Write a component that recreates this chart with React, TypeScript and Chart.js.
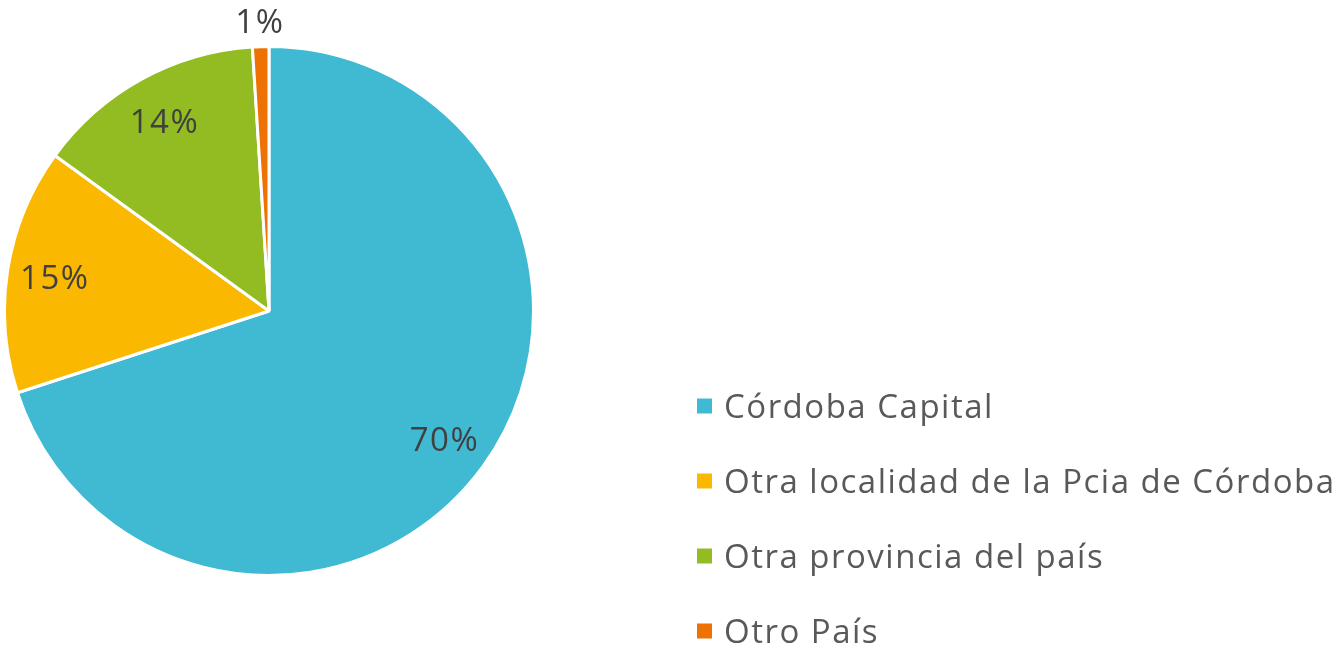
import React, { useEffect, useRef } from "react";
import { Chart, registerables } from "chart.js";

Chart.register(...registerables);

const categories = [
  "Córdoba Capital",
  "Otra localidad de la Pcia de Córdoba",
  "Otra provincia del país",
  "Otro País",
];
const values = [70, 15, 14, 1];
const valueLabels = ["70%", "15%", "14%", "1%"];
const colors = ["#40B9D3", "#FBB800", "#92BC22", "#EE7203"];

const FONT = "'Open Sans', 'Noto Sans', sans-serif";

const labelsPlugin = {
  id: "sliceLabels",
  afterDatasetsDraw(chart: any) {
    const ctx = chart.ctx;
    const meta = chart.getDatasetMeta(0);
    ctx.save();
    ctx.font = `33px ${FONT}`;
    (ctx as any).letterSpacing = "1.5px";
    ctx.fillStyle = "#404040";
    ctx.textAlign = "center";
    ctx.textBaseline = "middle";
    meta.data.forEach((arc: any, i: number) => {
      const { x, y, startAngle, endAngle, outerRadius } = arc.getProps(
        ["x", "y", "startAngle", "endAngle", "outerRadius"],
        true
      );
      const mid = (startAngle + endAngle) / 2;
      const small = values[i] < 3;
      const r = small ? outerRadius * 1.1 : outerRadius * 0.82;
      ctx.fillText(valueLabels[i], x + Math.cos(mid) * r, y + Math.sin(mid) * r + 3);
    });
    ctx.restore();
  },
};

const legendPlugin = {
  id: "customLegend",
  afterDraw(chart: any) {
    const ctx = chart.ctx;
    ctx.save();
    ctx.font = `33px ${FONT}`;
    (ctx as any).letterSpacing = "1.5px";
    ctx.textBaseline = "middle";
    ctx.textAlign = "left";
    categories.forEach((c, i) => {
      const cy = 406 + i * 75;
      ctx.fillStyle = colors[i];
      ctx.fillRect(697, cy - 7.5, 15, 15);
      ctx.fillStyle = "#595959";
      ctx.fillText(c, 724, cy + 3);
    });
    ctx.restore();
  },
};

export default function App() {
  const ref = useRef<HTMLCanvasElement>(null);
  useEffect(() => {
    document.body.style.margin = "0";
    const chart = new Chart(ref.current!, {
      type: "pie",
      data: {
        labels: categories,
        datasets: [
          {
            data: values,
            backgroundColor: colors,
            borderColor: "#FFFFFF",
            borderWidth: 3,
          },
        ],
      },
      options: {
        animation: false,
        responsive: false,
        layout: { padding: { left: 3, top: 45, right: 803, bottom: 71 } },
        plugins: {
          legend: { display: false },
          tooltip: { enabled: false },
        },
      },
      plugins: [labelsPlugin, legendPlugin],
    });
    return () => chart.destroy();
  }, []);
  return (
    <div style={{ width: 1338, height: 648, background: "#fff" }}>
      <canvas ref={ref} width={1338} height={648} />
    </div>
  );
}
